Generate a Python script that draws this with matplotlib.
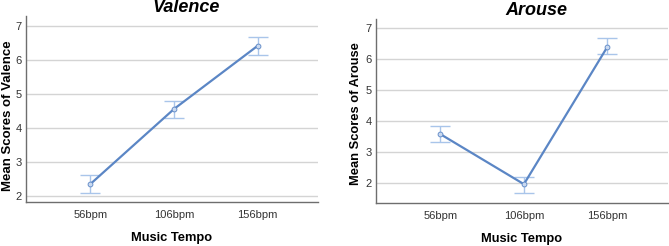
import matplotlib
matplotlib.use("Agg")
import matplotlib.pyplot as plt

plt.rcParams['font.family'] = ['Liberation Sans', 'DejaVu Sans']

tempos = ['56bpm', '106bpm', '156bpm']
valence_mean = [2.35, 4.56, 6.42]
valence_low = [2.08, 4.28, 6.15]
valence_high = [2.60, 4.80, 6.68]
arouse_mean = [3.57, 1.95, 6.40]
arouse_low = [3.33, 1.68, 6.17]
arouse_high = [3.82, 2.17, 6.67]

LINE = '#5b86c5'
ERR = '#a9c5ea'


def draw(ax, mean, low, high, title, ylabel, ylim, tpad, yfs, ly, lpad):
    x = list(range(len(tempos)))
    yerr = [[m - l for m, l in zip(mean, low)], [h - m for m, h in zip(mean, high)]]
    ax.errorbar(x, mean, yerr=yerr, fmt='none', ecolor=ERR, elinewidth=1.0,
                capsize=7, capthick=1.0, zorder=2)
    ax.plot(x, mean, color=LINE, lw=1.6, marker='o', ms=3.5,
            mfc='#c9d9f0', mec=LINE, mew=0.6, zorder=3)
    ax.set_xticks(x)
    ax.set_xticklabels(tempos)
    ax.set_xlim(-0.77, 2.72)
    ax.set_ylim(*ylim)
    ax.set_yticks([2, 3, 4, 5, 6, 7])
    ax.yaxis.grid(True, color='#d4d4d4', lw=1.0)
    ax.set_axisbelow(True)
    for s in ['top', 'right']:
        ax.spines[s].set_visible(False)
    for s in ['left', 'bottom']:
        ax.spines[s].set_color('#6e6e6e')
        ax.spines[s].set_linewidth(1.0)
    ax.tick_params(length=0, labelsize=8, colors='#333333', pad=3)
    ax.tick_params(axis='x', pad=6)
    ax.set_title(title, fontsize=13, fontweight='bold', fontstyle='italic',
                 x=0.55, pad=tpad)
    ax.set_ylabel(ylabel, fontsize=yfs, fontweight='bold', labelpad=lpad, y=ly)
    ax.set_xlabel('Music Tempo', fontsize=9.3, fontweight='bold', labelpad=8.5)


fig = plt.figure(figsize=(6.69, 2.46), dpi=100)
ax1 = fig.add_axes([0.039, 0.179, 0.436, 0.756])
ax2 = fig.add_axes([0.562, 0.176, 0.436, 0.746])

draw(ax1, valence_mean, valence_low, valence_high, 'Valence', 'Mean Scores of Valence',
     (1.82, 7.3), 0.8, 9.5, 0.465, 1.2)
draw(ax2, arouse_mean, arouse_low, arouse_high, 'Arouse', 'Mean Scores of Arouse',
     (1.35, 7.29), 3.1, 9.3, 0.484, 2.5)

fig.savefig('out.png', dpi=100)
